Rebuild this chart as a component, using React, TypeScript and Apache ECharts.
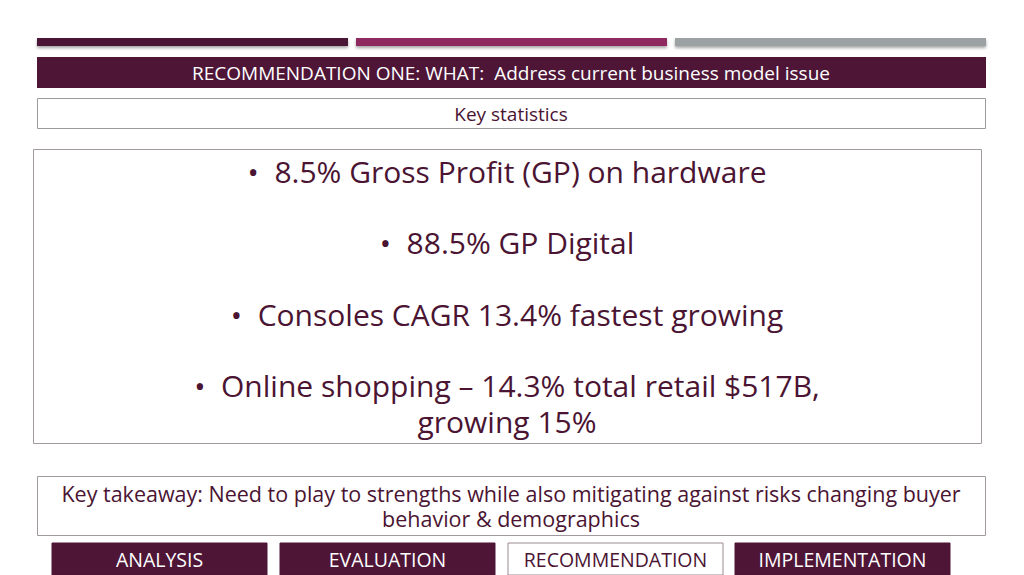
import React, { useEffect, useRef } from 'react';
import * as echarts from 'echarts';

const headline = 'RECOMMENDATION ONE: WHAT:  Address current business model issue';
const subhead = 'Key statistics';
const statLines = [
  '•  8.5% Gross Profit (GP) on hardware',
  '•  88.5% GP Digital',
  '•  Consoles CAGR 13.4% fastest growing',
  '•  Online shopping – 14.3% total retail $517B,\ngrowing 15%',
];
const takeawayText =
  'Key takeaway: Need to play to strengths while also mitigating against risks changing buyer\nbehavior & demographics';
const navTabs = ['ANALYSIS', 'EVALUATION', 'RECOMMENDATION', 'IMPLEMENTATION'];
const activeTab = 'RECOMMENDATION';

const PLUM = '#4e1537';
const INK = '#4a1432';
const FONT = '"Open Sans", "Noto Sans", sans-serif';

const App: React.FC = () => {
  const chartRef = useRef<HTMLDivElement>(null);

  useEffect(() => {
    if (!chartRef.current) return;
    const chart = echarts.init(chartRef.current, undefined, { renderer: 'svg' });

    const shadow = { shadowBlur: 3, shadowOffsetY: 2, shadowColor: 'rgba(0,0,0,0.35)' };
    const stripes = [
      { x: 37, color: '#4c1434' },
      { x: 356, color: '#8e2c60' },
      { x: 675, color: '#9ca1a4' },
    ].map((s) => ({
      type: 'rect',
      shape: { x: s.x, y: 38, width: 311, height: 8 },
      style: { fill: s.color, ...shadow },
    }));

    // top edge of each bullet text block
    const lineTop = [153, 224, 296, 367];
    const stats = statLines.map((t, i) => ({
      type: 'text',
      x: 507,
      y: lineTop[i],
      style: {
        text: t,
        fill: INK,
        font: `30px ${FONT}`,
        lineHeight: 36,
        align: 'center',
        verticalAlign: 'top',
      },
    }));

    const tabX = [52, 280, 508, 735];
    const tabs = navTabs.flatMap((t, i) => {
      const active = t === activeTab;
      return [
        {
          type: 'rect',
          shape: { x: tabX[i], y: 543, width: 215, height: 32 },
          style: { fill: active ? '#ffffff' : PLUM, stroke: active ? '#9a8a94' : PLUM, lineWidth: 1 },
        },
        {
          type: 'text',
          x: tabX[i] + 107.5,
          y: 559,
          style: {
            text: t,
            fill: active ? INK : '#ffffff',
            font: `19.5px ${FONT}`,
            align: 'center',
            verticalAlign: 'middle',
          },
        },
      ];
    });

    chart.setOption({
      animation: false,
      backgroundColor: '#ffffff',
      graphic: [
        ...stripes,
        { type: 'rect', shape: { x: 37, y: 57, width: 949, height: 31 }, style: { fill: PLUM } },
        {
          type: 'text',
          x: 511,
          y: 73,
          style: { text: headline, fill: '#ffffff', font: `19px ${FONT}`, align: 'center', verticalAlign: 'middle' },
        },
        {
          type: 'rect',
          shape: { x: 37.5, y: 98.5, width: 948, height: 30 },
          style: { fill: '#ffffff', stroke: '#9a9a9a', lineWidth: 1 },
        },
        {
          type: 'text',
          x: 511,
          y: 114,
          style: { text: subhead, fill: INK, font: `19px ${FONT}`, align: 'center', verticalAlign: 'middle' },
        },
        {
          type: 'rect',
          shape: { x: 33.5, y: 149.5, width: 948, height: 294 },
          style: { fill: '#ffffff', stroke: '#a09aa0', lineWidth: 1 },
        },
        ...stats,
        {
          type: 'rect',
          shape: { x: 37.5, y: 476.5, width: 948, height: 59 },
          style: { fill: '#ffffff', stroke: '#a09aa0', lineWidth: 1 },
        },
        {
          type: 'text',
          x: 511,
          y: 481,
          style: {
            text: takeawayText,
            fill: INK,
            font: `21.5px ${FONT}`,
            lineHeight: 25,
            align: 'center',
            verticalAlign: 'top',
          },
        },
        ...tabs,
      ],
    });

    return () => {
      chart.dispose();
    };
  }, []);

  return (
    <div
      ref={chartRef}
      style={{ position: 'fixed', left: 0, top: 0, width: '1024px', height: '575px' }}
    />
  );
};

export default App;
